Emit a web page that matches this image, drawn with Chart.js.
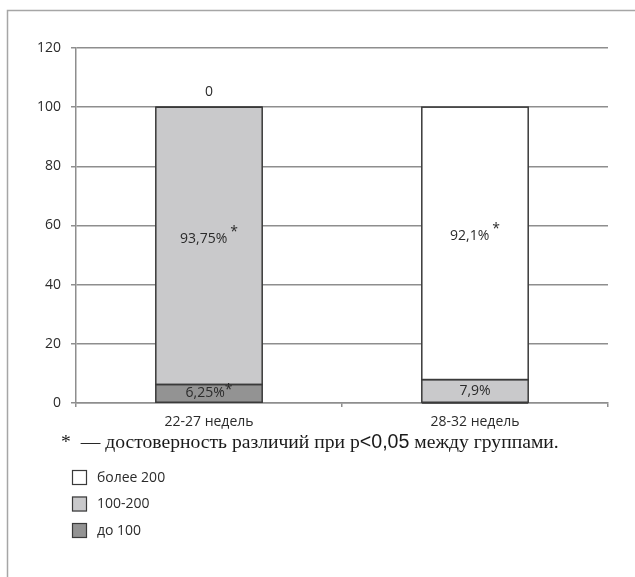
<!DOCTYPE html>
<html>
<head>
<meta charset="utf-8">
<script src="https://cdn.jsdelivr.net/npm/chart.js@4.4.1/dist/chart.umd.min.js"></script>
<style>
  html, body { margin: 0; padding: 0; background: #ffffff; }
  #wrap { width: 635px; height: 577px; position: relative; }
</style>
</head>
<body>
<div id="wrap"><canvas id="c" width="635" height="577"></canvas></div>
<script>
// ---- data ----
const categories = ['22-27 недель', '28-32 недель'];
const seriesNames = ['до 100', '100-200', 'более 200'];
const valuesUnder100 = [6.25, 0];
const values100to200 = [93.75, 7.9];
const valuesOver200 = [0, 92.1];
const starsUnder100 = [true, false];
const stars100to200 = [true, false];
const starsOver200 = [false, true];
const yMin = 0, yMax = 120, yStep = 20;
const footnoteParts = ['*', '  — достоверность различий при p', '<0,05', ' между группами.'];

// ---- styles ----
const seriesColors = ['#939393', '#c9c9cb', '#ffffff'];
const FONT = '"Open Sans", "DejaVu Sans", sans-serif';
const gridColor = '#8e8e8e';
const textColor = '#2b2b2b';

function fmt(v) { return String(v).replace('.', ',') + '%'; }

const starSets = [starsUnder100, stars100to200, starsOver200];
const valueSets = [valuesUnder100, values100to200, valuesOver200];

const labelPlugin = {
  id: 'segLabels',
  afterDatasetsDraw(chart) {
    const ctx = chart.ctx;
    ctx.save();
    // outlines of segments (single line at junctions)
    ctx.strokeStyle = '#3a3a3a';
    ctx.lineWidth = 1.5;
    chart.data.datasets.forEach((ds, i) => {
      const meta = chart.getDatasetMeta(i);
      meta.data.forEach((el) => {
        const top = Math.min(el.y, el.base), bot = Math.max(el.y, el.base);
        ctx.strokeRect(el.x - el.width / 2, top, el.width, bot - top);
      });
    });
    ctx.font = '14px ' + FONT;
    ctx.fillStyle = textColor;
    ctx.textBaseline = 'middle';
    const n = chart.data.datasets.length;
    chart.data.datasets.forEach((ds, i) => {
      const meta = chart.getDatasetMeta(i);
      meta.data.forEach((el, j) => {
        const v = ds.data[j];
        if (v === 0) {
          if (i === n - 1) {
            ctx.textAlign = 'center';
            ctx.fillText('0', el.x, el.y - 15);
          }
          return;
        }
        const txt = fmt(v);
        const star = starSets[i][j];
        const cy = (el.y + el.base) / 2;
        const tall = Math.abs(el.base - el.y) > 60;
        const w = ctx.measureText(txt).width;
        const sw = star ? ctx.measureText('*').width + (tall ? 3 : 0) : 0;
        const x0 = el.x - (w + sw) / 2;
        const y = tall ? cy - 7 : cy;
        ctx.textAlign = 'left';
        ctx.fillText(txt, x0, y);
        if (star) {
          ctx.fillText('*', x0 + w + (tall ? 3 : 0), y - (tall ? 7 : 3));
        }
      });
    });
    ctx.restore();
  }
};

const framePlugin = {
  id: 'frameAndLegend',
  beforeDraw(chart) {
    const ctx = chart.ctx;
    ctx.save();
    ctx.fillStyle = '#ffffff';
    ctx.fillRect(0, 0, chart.width, chart.height);
    ctx.strokeStyle = '#a6a6a6';
    ctx.lineWidth = 1.5;
    ctx.beginPath();
    ctx.moveTo(7.5, 577);
    ctx.lineTo(7.5, 10.5);
    ctx.lineTo(635, 10.5);
    ctx.stroke();
    ctx.restore();
  },
  afterDraw(chart) {
    const ctx = chart.ctx;
    ctx.save();
    // footnote
    const serif = '"Liberation Serif", "DejaVu Serif", serif';
    const sans = '"Liberation Sans", Arial, sans-serif';
    const base = 18;
    const fonts = [serif, serif, sans, serif];
    let total = 0;
    footnoteParts.forEach((p, k) => { ctx.font = base + 'px ' + fonts[k]; total += ctx.measureText(p).width; });
    const size = base * 498 / total;
    let x = 61;
    ctx.fillStyle = '#1a1a1a';
    ctx.textBaseline = 'alphabetic';
    ctx.textAlign = 'left';
    footnoteParts.forEach((p, k) => {
      ctx.font = size + 'px ' + fonts[k];
      ctx.fillText(p, x, 448);
      x += ctx.measureText(p).width;
    });
    // legend (reverse order)
    const items = chart.data.datasets.slice().reverse();
    ctx.font = '14px ' + FONT;
    ctx.textBaseline = 'middle';
    items.forEach((ds, k) => {
      const top = 470 + k * 26.5;
      ctx.fillStyle = ds.backgroundColor;
      ctx.fillRect(72, top, 15, 15);
      ctx.strokeStyle = '#3a3a3a';
      ctx.lineWidth = 1.2;
      ctx.strokeRect(72.5, top + 0.5, 14, 14);
      ctx.fillStyle = textColor;
      ctx.fillText(ds.label, 97, top + 8);
    });
    ctx.restore();
  }
};

const datasets = seriesNames.map((name, i) => ({
  label: name,
  data: valueSets[i],
  backgroundColor: seriesColors[i],
  borderWidth: 0,
  inflateAmount: 0,
  barPercentage: 0.4,
  categoryPercentage: 1.0
}));

new Chart(document.getElementById('c'), {
  type: 'bar',
  data: { labels: categories, datasets },
  options: {
    responsive: false,
    animation: false,
    devicePixelRatio: 1,
    layout: { padding: { left: 8, right: 27, top: 48, bottom: 134 } },
    plugins: { legend: { display: false }, tooltip: { enabled: false } },
    scales: {
      x: {
        stacked: true,
        grid: { display: true, drawOnChartArea: false, drawTicks: true, tickLength: 4, color: gridColor, lineWidth: 1.5, offset: true },
        border: { display: true, color: gridColor, width: 1.5 },
        ticks: { color: textColor, font: { family: FONT, size: 14 }, padding: 7 },
        afterFit(s) { s.height = 40; }
      },
      y: {
        stacked: true,
        min: yMin, max: yMax,
        grid: { color: gridColor, lineWidth: 1.5, tickLength: 5 },
        border: { display: true, color: gridColor, width: 1.5 },
        ticks: { stepSize: yStep, color: textColor, font: { family: FONT, size: 14 }, padding: 10 },
        afterFit(s) { s.width = 68; }
      }
    }
  },
  plugins: [framePlugin, labelPlugin]
});
</script>
</body>
</html>
